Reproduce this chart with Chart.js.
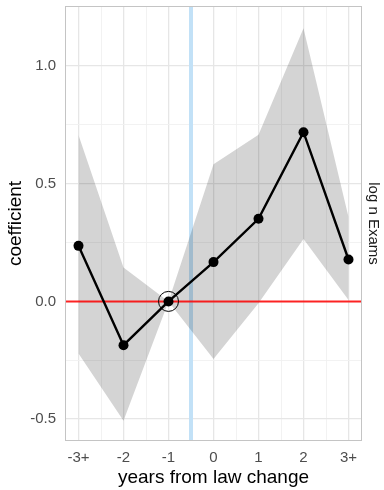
<!DOCTYPE html>
<html>
<head>
<meta charset="utf-8">
<script src="https://cdn.jsdelivr.net/npm/chart.js@4.4.1/dist/chart.umd.min.js"></script>
<style>
  html, body { margin: 0; padding: 0; background: #ffffff; }
  #wrap { width: 384px; height: 490px; position: relative; }
</style>
</head>
<body>
<div id="wrap"><canvas id="c"></canvas></div>
<script>
// Event-study estimates: years relative to the law change
const periods = [-3, -2, -1, 0, 1, 2, 3];
const periodLabels = ['-3+', '-2', '-1', '0', '1', '2', '3+'];
const coef = [0.236, -0.186, 0, 0.167, 0.351, 0.719, 0.178];
const ciUpper = [0.707, 0.144, 0, 0.583, 0.708, 1.160, 0.359];
const ciLower = [-0.221, -0.507, 0, -0.245, -0.008, 0.265, 0.006];
const referencePeriod = -1;
const lawChangeAt = -0.5;

const yTicks = [-0.5, -0.25, 0, 0.25, 0.5, 0.75, 1.0];
const xTicks = [-3, -2.5, -2, -1.5, -1, -0.5, 0, 0.5, 1, 1.5, 2, 2.5, 3];
const X_MIN = -3.3, X_MAX = 3.3;
const Y_MIN = -0.593, Y_MAX = 1.255;

const FONT = '"Liberation Sans", Arial, sans-serif';
const isInt = v => Math.abs(v - Math.round(v)) < 1e-9;
const isMajorY = v => Math.abs(v * 2 - Math.round(v * 2)) < 1e-9;

const pts = arr => periods.map((p, i) => ({ x: p, y: arr[i] }));

// Panel decorations: law-change marker, panel border, titles
const decor = {
  id: 'decor',
  beforeDatasetsDraw(chart) {
    const { ctx, chartArea: a, scales } = chart;
    const x = scales.x.getPixelForValue(lawChangeAt);
    ctx.save();
    ctx.strokeStyle = '#c2e1f7';
    ctx.lineWidth = 4;
    ctx.beginPath();
    ctx.moveTo(x, a.top);
    ctx.lineTo(x, a.bottom);
    ctx.stroke();
    ctx.restore();
  },
  afterDraw(chart) {
    const { ctx, chartArea: a } = chart;
    ctx.save();
    ctx.strokeStyle = '#c4c4c4';
    ctx.lineWidth = 1;
    ctx.strokeRect(Math.round(a.left) + 0.5, Math.round(a.top) + 0.5,
                   Math.round(a.right - a.left) - 1, Math.round(a.bottom - a.top) - 1);

    ctx.fillStyle = '#000000';
    ctx.font = '19px ' + FONT;
    ctx.textAlign = 'center';
    ctx.textBaseline = 'middle';
    ctx.fillText('years from law change', (a.left + a.right) / 2, 478);

    ctx.save();
    ctx.translate(16, (a.top + a.bottom) / 2);
    ctx.rotate(-Math.PI / 2);
    ctx.fillText('coefficient', 0, 0);
    ctx.restore();

    ctx.fillStyle = '#1a1a1a';
    ctx.font = '15px ' + FONT;
    ctx.save();
    ctx.translate(373, (a.top + a.bottom) / 2);
    ctx.rotate(Math.PI / 2);
    ctx.fillText('log n Exams', 0, 0);
    ctx.restore();
    ctx.restore();
  }
};

new Chart(document.getElementById('c'), {
  type: 'line',
  data: {
    datasets: [
      {
        // reference-period marker
        type: 'scatter',
        data: [{ x: referencePeriod, y: coef[periods.indexOf(referencePeriod)] }],
        pointRadius: 10,
        pointBorderWidth: 1,
        pointBorderColor: '#000000',
        pointBackgroundColor: 'rgba(0,0,0,0)',
        order: 0
      },
      {
        data: pts(coef),
        borderColor: '#000000',
        borderWidth: 2.4,
        pointRadius: 5,
        pointBackgroundColor: '#000000',
        pointBorderColor: '#000000',
        pointBorderWidth: 0,
        tension: 0,
        fill: false,
        order: 1
      },
      {
        // zero line
        data: [{ x: X_MIN, y: 0 }, { x: X_MAX, y: 0 }],
        borderColor: 'rgba(255,0,0,0.85)',
        borderWidth: 2,
        pointRadius: 0,
        fill: false,
        order: 2
      },
      {
        data: pts(ciUpper),
        borderWidth: 0,
        borderColor: 'rgba(0,0,0,0)',
        pointRadius: 0,
        backgroundColor: 'rgba(0,0,0,0.17)',
        fill: '+1',
        tension: 0,
        order: 3
      },
      {
        data: pts(ciLower),
        borderWidth: 0,
        borderColor: 'rgba(0,0,0,0)',
        pointRadius: 0,
        fill: false,
        tension: 0,
        order: 4
      }
    ]
  },
  options: {
    responsive: true,
    maintainAspectRatio: false,
    animation: false,
    layout: { autoPadding: false, padding: { top: 6, right: 22, left: 0, bottom: 0 } },
    plugins: { legend: { display: false }, tooltip: { enabled: false } },
    scales: {
      x: {
        type: 'linear',
        min: X_MIN,
        max: X_MAX,
        afterBuildTicks(scale) { scale.ticks = xTicks.map(v => ({ value: v })); },
        afterFit(scale) {
          scale.height = 49;
          scale.paddingLeft = 0;
          scale.paddingRight = 0;
        },
        border: { display: false },
        grid: {
          drawTicks: false,
          color: c => isInt(c.tick.value) ? '#e6e6e6' : '#f1f1f1',
          lineWidth: c => isInt(c.tick.value) ? 1.3 : 0.9
        },
        ticks: {
          autoSkip: false,
          maxRotation: 0,
          padding: 8,
          color: '#4d4d4d',
          font: { family: FONT, size: 15 },
          callback(v) {
            const i = periods.indexOf(v);
            return i >= 0 ? periodLabels[i] : '';
          }
        }
      },
      y: {
        type: 'linear',
        min: Y_MIN,
        max: Y_MAX,
        afterBuildTicks(scale) { scale.ticks = yTicks.map(v => ({ value: v })); },
        afterFit(scale) {
          scale.width = 65;
          scale.paddingTop = 0;
          scale.paddingBottom = 0;
        },
        border: { display: false },
        grid: {
          drawTicks: false,
          color: c => isMajorY(c.tick.value) ? '#e6e6e6' : '#f1f1f1',
          lineWidth: c => isMajorY(c.tick.value) ? 1.3 : 0.9
        },
        ticks: {
          autoSkip: false,
          padding: 9,
          color: '#4d4d4d',
          font: { family: FONT, size: 15 },
          callback(v) { return isMajorY(v) ? v.toFixed(1) : ''; }
        }
      }
    }
  },
  plugins: [decor]
});
</script>
</body>
</html>
